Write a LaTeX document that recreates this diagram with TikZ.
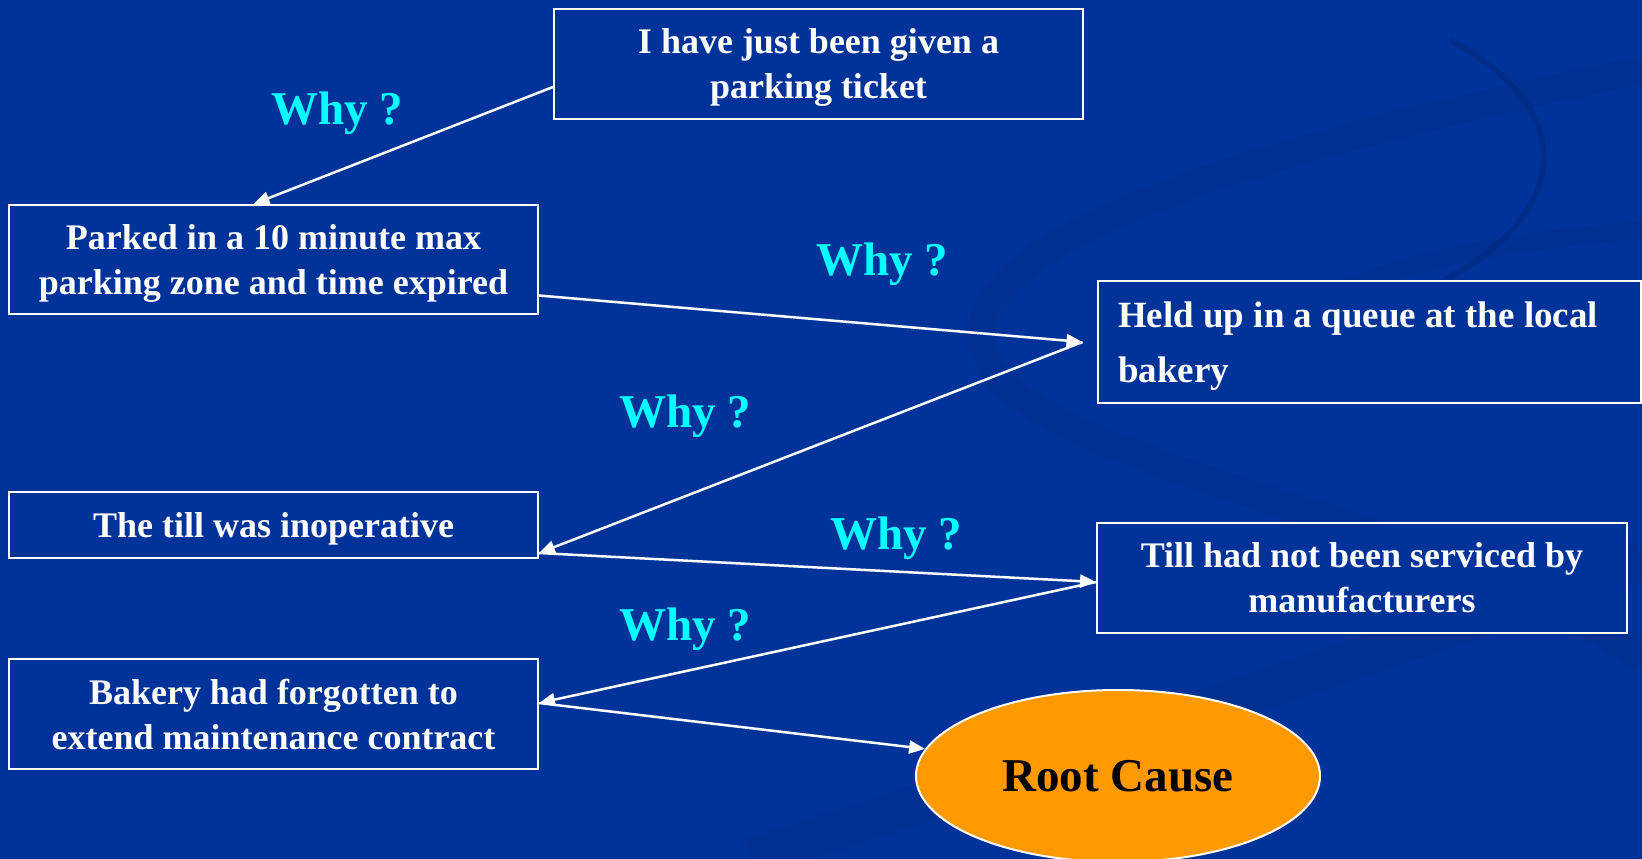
\documentclass[tikz,border=0pt]{standalone}
\usepackage{fontspec}
\setmainfont{Liberation Serif}
\usetikzlibrary{arrows.meta,shapes.geometric}
\definecolor{bg}{HTML}{003399}
\definecolor{swoosh}{HTML}{002A80}
\definecolor{whycol}{HTML}{00FFFF}
\definecolor{rootcol}{HTML}{FF9900}
\begin{document}
\begin{tikzpicture}[x=1pt,y=-1pt,
  box/.style={draw=white, line width=2pt, fill=bg, text=white, text depth=0pt,
    font=\bfseries\fontsize{36}{45}\selectfont, align=center, inner sep=0pt},
  why/.style={text=whycol, font=\bfseries\fontsize{47}{52}\selectfont},
  arr/.style={white, line width=2.5pt, -{Triangle[length=16pt,width=13pt]}}]
\fill[bg] (0,0) rectangle (1642,859);
\useasboundingbox (0,0) rectangle (1642,859);
% background swooshes
\begin{scope}[swoosh, line width=28pt, opacity=0.28]
  \draw (1642,70) .. controls (1200,160) and (900,260) .. (1000,380)
        .. controls (1100,480) and (1450,520) .. (1642,660);
  \draw[line width=40pt] (750,859) .. controls (1050,760) and (1300,680) .. (1642,560);
  \draw[line width=18pt] (1642,230) .. controls (1400,250) and (1250,300) .. (1300,380);
  \draw[line width=6pt, opacity=0.6] (1450,40) .. controls (1600,120) and (1560,240) .. (1400,300);
\end{scope}
% nodes
\node[box, minimum width=529pt, minimum height=110pt] (b1) at (818.5,64)
  {I have just been given a\\parking ticket};
\node[box, minimum width=529pt, minimum height=109pt] (b2) at (273.5,259.5)
  {Parked in a 10 minute max\\parking zone and time expired};
\node[box, minimum width=543pt, minimum height=122pt, align=left,
  font=\bfseries\fontsize{37}{54.5}\selectfont] (b3) at (1369,342)
  {\makebox[502pt][l]{Held up in a queue at the local}\\bakery};
\node[box, minimum width=529pt, minimum height=66pt] (b4) at (273.5,525)
  {The till was inoperative};
\node[box, minimum width=530pt, minimum height=110pt] (b5) at (1362,578)
  {Till had not been serviced by\\manufacturers};
\node[box, minimum width=529pt, minimum height=110pt] (b6) at (273.5,714)
  {Bakery had forgotten to\\extend maintenance contract};
\node[ellipse, draw=white, line width=2pt, fill=rootcol, inner sep=0pt,
  minimum width=404pt, minimum height=172pt,
  font=\bfseries\fontsize{47}{52}\selectfont] (root) at (1118,776) {Root Cause};
% why labels
\node[why] (w1) at (337,113) {Why ?};
\node[why] (w2) at (882,264) {Why ?};
\node[why] (w3) at (685,416) {Why ?};
\node[why] (w4) at (896,538) {Why ?};
\node[why] (w5) at (685,629) {Why ?};
% connectors
\coordinate (p3) at ([xshift=-14pt]b3.west);
\coordinate (p5) at ([yshift=-4pt]b5.west);
\draw[arr] ([yshift=-23pt]b1.west) -- ([xshift=-20pt]b2.north);
\draw[arr] ([yshift=-36pt]b2.east) -- (p3);
\draw[arr] (p3) -- ([yshift=-28pt]b4.east);
\draw[arr] ([yshift=-28pt]b4.east) -- (p5);
\draw[arr] (p5) -- ([yshift=11pt]b6.east);
\draw[arr] ([yshift=11pt]b6.east) -- (root.172);
\end{tikzpicture}
\end{document}
